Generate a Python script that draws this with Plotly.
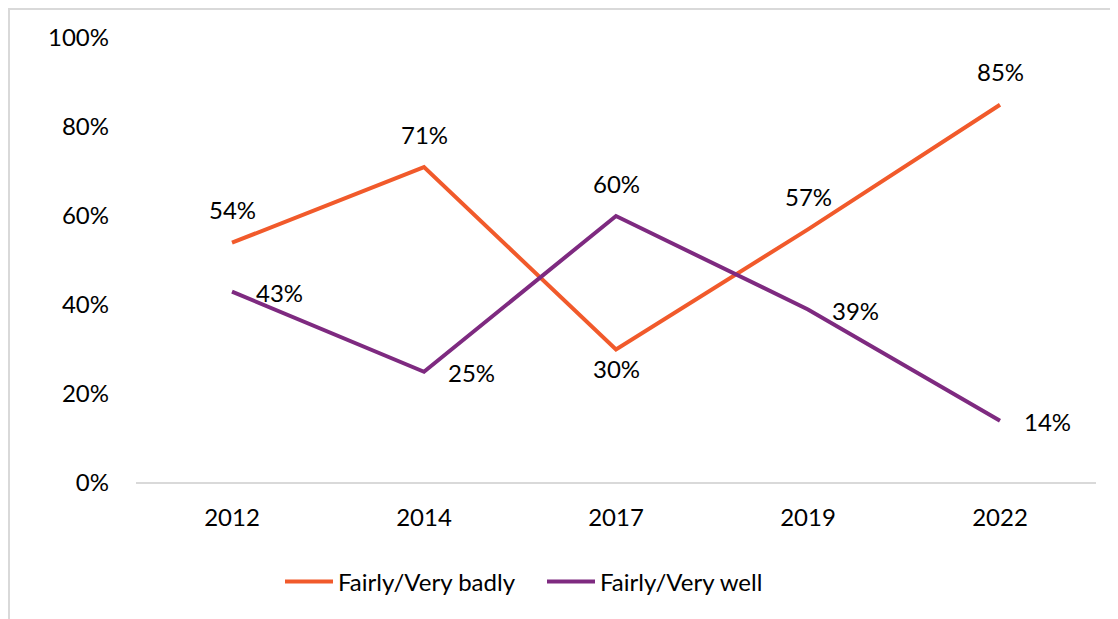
import plotly.graph_objects as go

years = ["2012", "2014", "2017", "2019", "2022"]
badly = [0.54, 0.71, 0.30, 0.57, 0.85]
well = [0.43, 0.25, 0.60, 0.39, 0.14]
badly_pos = ["above", "above", "below", "above", "above"]
well_pos = ["right", "right", "above", "right", "right"]

ORANGE = "#F15A2B"
PURPLE = "#7E2A80"
FONT = "Lato"
FS = 24

OFFSETS = {
    "above": dict(xanchor="center", yanchor="middle", xshift=0, yshift=33),
    "below": dict(xanchor="center", yanchor="middle", xshift=0, yshift=-19),
    "right": dict(xanchor="left", yanchor="middle", xshift=22, yshift=-1),
}

fig = go.Figure()
fig.add_trace(go.Scatter(
    x=years, y=badly, mode="lines", name="Fairly/Very badly",
    line=dict(color=ORANGE, width=4),
))
fig.add_trace(go.Scatter(
    x=years, y=well, mode="lines", name="Fairly/Very well",
    line=dict(color=PURPLE, width=4),
))

annotations = []
for vals, poss in ((badly, badly_pos), (well, well_pos)):
    for i, (v, p) in enumerate(zip(vals, poss)):
        annotations.append(dict(
            x=i, y=v, xref="x", yref="y", text=f"{round(v * 100)}%",
            showarrow=False, font=dict(family=FONT, size=FS, color="#000000"),
            **OFFSETS[p],
        ))

W, H = 1110, 611
fig.update_layout(
    width=W, height=H,
    margin=dict(l=128, r=22, t=30, b=136),
    paper_bgcolor="white", plot_bgcolor="white",
    font=dict(family=FONT, size=FS, color="#000000"),
    showlegend=True,
    legend=dict(orientation="h", x=0.150, xanchor="left", y=-0.2225, yanchor="middle",
                font=dict(size=FS), tracegroupgap=0, itemwidth=48,
                entrywidth=199, entrywidthmode="pixels"),
    xaxis=dict(type="category", range=[-0.5, 4.5], showgrid=False, zeroline=False,
               showline=False, ticks="", ticklabelstandoff=18),
    yaxis=dict(range=[0, 1], tickvals=[0, 0.2, 0.4, 0.6, 0.8, 1.0], tickformat=".0%",
               showgrid=False, zeroline=True, zerolinecolor="#D9D9D9", zerolinewidth=2,
               showline=False, ticks="", ticklabelstandoff=26),
    annotations=annotations,
    shapes=[dict(type="rect", xref="paper", yref="paper", x0=-0.1323, x1=1.2,
                 y0=-0.4, y1=1.0652, line=dict(color="#D9D9D9", width=2), layer="below")],
)

fig.write_html("out.html")
